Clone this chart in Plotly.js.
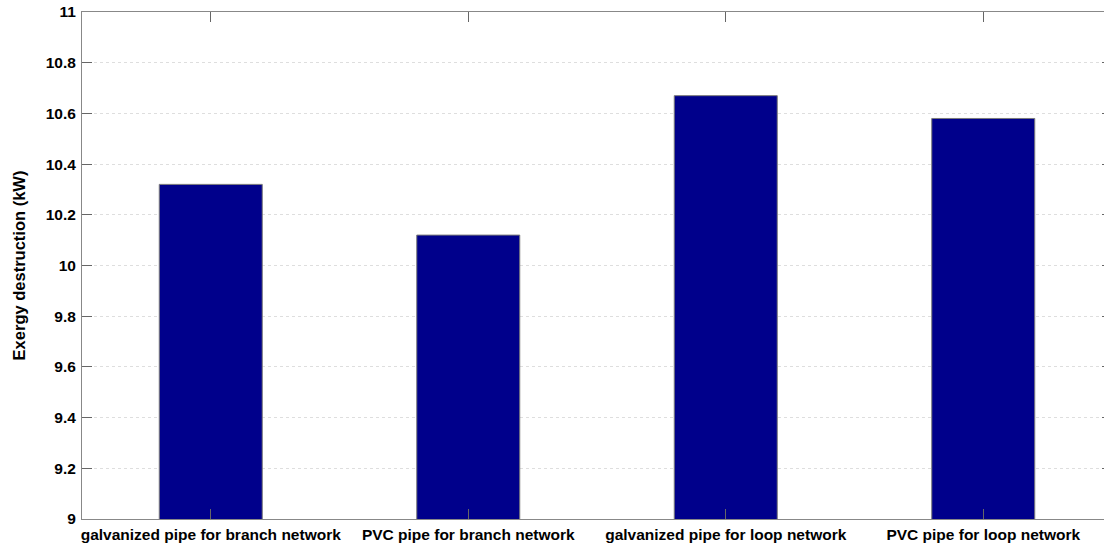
<!DOCTYPE html>
<html>
<head>
<meta charset="utf-8">
<script src="https://cdn.plot.ly/plotly-3.0.1.min.js"></script>
<style>
html,body{margin:0;padding:0;overflow:hidden;background:#fff;}
#chart{width:1120px;height:543px;}
</style>
</head>
<body>
<div id="chart"></div>
<script>
const categories = [
  "galvanized pipe for branch network",
  "PVC pipe for branch network",
  "galvanized pipe for loop network",
  "PVC pipe for loop network"
];
const positions = [1, 2, 3, 4];
const exergyDestruction = [10.32, 10.12, 10.67, 10.58];
const yTicks = [9, 9.2, 9.4, 9.6, 9.8, 10, 10.2, 10.4, 10.6, 10.8, 11];
const yTickText = ["9", "9.2", "9.4", "9.6", "9.8", "10", "10.2", "10.4", "10.6", "10.8", "11"];

const font = {family: "Liberation Sans, Arial, sans-serif", size: 15.5, color: "#000"};

const trace = {
  type: "bar",
  x: positions,
  y: exergyDestruction,
  base: 0,
  width: 0.4,
  marker: {color: "#00008B", line: {color: "#7a7a7a", width: 1}},
  hoverinfo: "skip"
};

const layout = {
  width: 1120,
  height: 543,
  margin: {l: 82, r: 8, t: 12, b: 24},
  paper_bgcolor: "#fff",
  plot_bgcolor: "#fff",
  showlegend: false,
  font: font,
  bargap: 0,
  xaxis: {
    range: [0.5, 4.5],
    tickvals: positions,
    ticktext: categories.map(c => "<b>" + c + "</b>"),
    ticks: "inside",
    ticklen: 10,
    tickcolor: "#666",
    showline: true,
    linecolor: "#888",
    linewidth: 1,
    mirror: "ticks",
    showgrid: false,
    zeroline: false,
    tickfont: {family: font.family, size: 15.5, color: "#000"},
    ticklabelstandoff: 1
  },
  yaxis: {
    range: [9, 11],
    tickvals: yTicks,
    ticktext: yTickText.map(t => "<b>" + t + "</b>"),
    ticks: "inside",
    ticklen: 10,
    tickcolor: "#666",
    showline: true,
    linecolor: "#888",
    linewidth: 1,
    mirror: "ticks",
    showgrid: true,
    gridcolor: "#dedede",
    griddash: "dot",
    gridwidth: 1,
    zeroline: false,
    tickfont: {family: font.family, size: 15.5, color: "#000"},
    ticklabelstandoff: 2,
    title: {
      text: "<b>Exergy destruction (kW)</b>",
      font: {family: font.family, size: 16.5, color: "#000"},
      standoff: 15
    }
  }
};

Plotly.newPlot("chart", [trace], layout, {displayModeBar: false, staticPlot: true});
</script>
</body>
</html>
